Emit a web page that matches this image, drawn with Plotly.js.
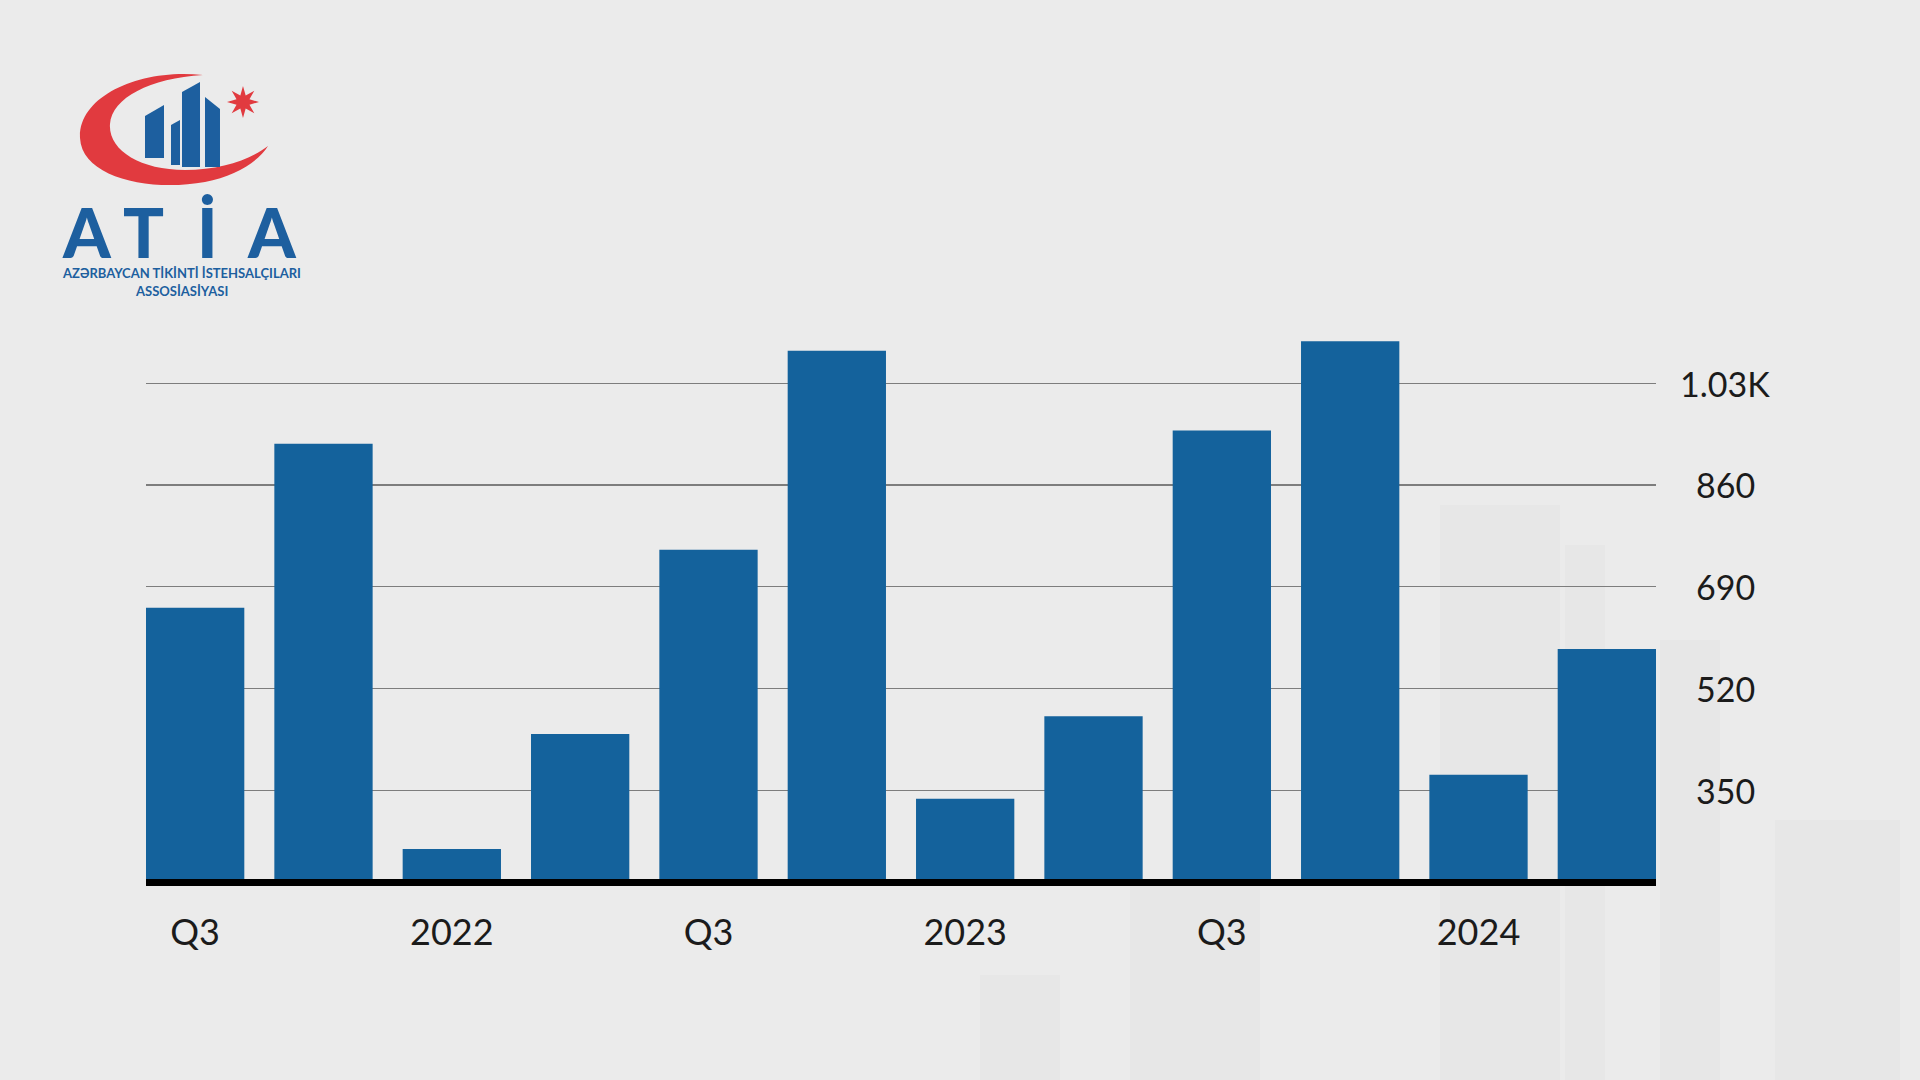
<!DOCTYPE html>
<html>
<head>
<meta charset="utf-8">
<script src="https://cdn.plot.ly/plotly-3.0.1.min.js"></script>
<style>
  html, body { margin: 0; padding: 0; background: #ebebeb; }
  #chart { width: 1920px; height: 1080px; }
</style>
</head>
<body>
<div id="chart"></div>
<script>
// ── Data ─────────────────────────────────────────────────────────────
const quarters = ['2021 Q3', '2021 Q4', '2022 Q1', '2022 Q2', '2022 Q3', '2022 Q4',
                  '2023 Q1', '2023 Q2', '2023 Q3', '2023 Q4', '2024 Q1', '2024 Q2'];
const values = [655, 929, 252, 444, 752, 1084, 336, 474, 951, 1100, 376, 586];

const xTickVals = ['2021 Q3', '2022 Q1', '2022 Q3', '2023 Q1', '2023 Q3', '2024 Q1'];
const xTickText = ['Q3', '2022', 'Q3', '2023', 'Q3', '2024'];
const yTickVals = [350, 520, 690, 860, 1030];
const yTickText = ['350', '520', '690', '860', '1.03K'];

// ── Helpers: the figure has no margins, so paper coords = pixels / size ──
const W = 1920, H = 1080;
const px = x => x / W;
const py = y => 1 - y / H;

// Convert an SVG path written in screen pixels into paper coordinates.
function pixPath(d) {
    return d.replace(/(-?\d+\.?\d*)[ ,](-?\d+\.?\d*)/g,
        (m, x, y) => px(+x).toFixed(5) + ',' + py(+y).toFixed(5));
}

function starPath(cx, cy, rOut, rIn, points) {
    let d = '';
    for (let i = 0; i < points * 2; i++) {
        const r = i % 2 === 0 ? rOut : rIn;
        const a = -Math.PI / 2 + i * Math.PI / points;
        d += (i === 0 ? 'M' : 'L') + (cx + r * Math.cos(a)).toFixed(2) + ' ' + (cy + r * Math.sin(a)).toFixed(2) + ' ';
    }
    return d + 'Z';
}

// ── Logo (decoration) ────────────────────────────────────────────────
const red = '#e13a3f';
const logoBlue = '#1d5f9f';

const logoShapes = [
    // crescent
    { d: 'M203 75 C140 68 78 96 80 138 C82 178 150 192 205 182 C235 176 258 162 268 146 ' +
         'C250 160 220 170 185 170 C140 170 108 150 110 124 C112 98 150 78 203 75 Z', c: red },
    // buildings
    { d: 'M145 116 L164 105 L164 158 L145 158 Z', c: logoBlue },
    { d: 'M171 125 L180 120 L180 165 L171 165 Z', c: logoBlue },
    { d: 'M182 92 L200 82 L200 167 L182 167 Z', c: logoBlue },
    { d: 'M205 97 L220 109 L220 167 L205 167 Z', c: logoBlue },
    // star
    { d: starPath(243, 102, 16, 7, 8), c: red }
].map(s => ({
    type: 'path', xref: 'paper', yref: 'paper', layer: 'above',
    path: pixPath(s.d), fillcolor: s.c, line: { width: 0 }
}));

// faint skyline in the background
const skyline = [
    [1440, 505, 1560, 1080], [1565, 545, 1605, 1080], [1660, 640, 1720, 1080],
    [1775, 820, 1900, 1080], [980, 975, 1060, 1080], [1130, 880, 1260, 1080]
].map(r => ({
    type: 'rect', xref: 'paper', yref: 'paper', layer: 'below',
    x0: px(r[0]), x1: px(r[2]), y0: py(r[3]), y1: py(r[1]),
    fillcolor: '#d9d9d9', opacity: 0.18, line: { width: 0 }
}));

const logoLetters = ['A', 'T', 'İ', 'A'];
const logoLetterX = [87, 143, 207, 272];

const logoAnnotations = logoLetters.map((t, i) => ({
    text: t, xref: 'paper', yref: 'paper', x: px(logoLetterX[i]), y: py(232),
    xanchor: 'center', yanchor: 'middle', showarrow: false,
    font: { family: 'Lato', size: 68, weight: 900, color: logoBlue }
})).concat([
    { text: 'AZƏRBAYCAN TİKİNTİ İSTEHSALÇILARI', y: py(273) },
    { text: 'ASSOSİASİYASI', y: py(291) }
].map(a => ({
    text: a.text, xref: 'paper', yref: 'paper', x: px(181), y: a.y,
    xanchor: 'center', yanchor: 'middle', showarrow: false,
    font: { family: 'Lato', size: 13, weight: 'bold', color: logoBlue }
})));

// right-hand value labels, centred on the gridlines
const yLabelAnnotations = yTickVals.map((v, i) => ({
    text: yTickText[i], xref: 'paper', yref: 'y', x: px(1725), y: v,
    xanchor: 'center', yanchor: 'middle', showarrow: false,
    font: { family: 'Lato', size: 34, color: '#1b1b1b' }
}));

// ── Plot ─────────────────────────────────────────────────────────────
const barTrace = {
    x: quarters,
    y: values,
    type: 'bar',
    marker: { color: '#14629c', line: { width: 0 } },
    hoverinfo: 'x+y'
};

const layout = {
    width: W,
    height: H,
    margin: { l: 0, r: 0, t: 0, b: 0 },
    paper_bgcolor: '#ebebeb',
    plot_bgcolor: 'rgba(0,0,0,0)',
    showlegend: false,
    bargap: 0.234,
    xaxis: {
        domain: [px(146), px(1656)],
        type: 'category',
        range: [-0.383, 11.383],
        tickmode: 'array',
        tickvals: xTickVals,
        ticktext: xTickText,
        tickfont: { family: 'Lato', size: 36, color: '#1b1b1b' },
        ticks: '',
        ticklabelstandoff: 16,
        showgrid: false,
        showline: true,
        linecolor: '#000000',
        linewidth: 7,
        zeroline: false,
        fixedrange: true
    },
    yaxis: {
        domain: [py(879), py(335.3)],
        range: [202, 1110],
        tickmode: 'array',
        tickvals: yTickVals,
        showticklabels: false,
        gridcolor: '#7d7d7d',
        gridwidth: 1.3,
        zeroline: false,
        fixedrange: true
    },
    shapes: skyline.concat(logoShapes),
    annotations: logoAnnotations.concat(yLabelAnnotations)
};

Plotly.newPlot('chart', [barTrace], layout, { displayModeBar: false, staticPlot: true });
</script>
</body>
</html>
